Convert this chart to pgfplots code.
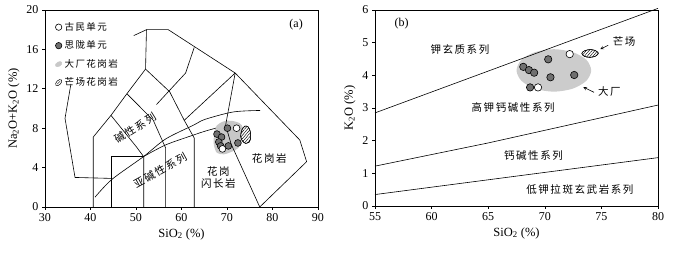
\documentclass[border=0pt]{standalone}
\usepackage{fontspec}
\setmainfont{Liberation Serif}
\newfontfamily\cjk[LetterSpace=15]{Noto Sans CJK SC}
\usepackage{pgfplots}
\pgfplotsset{compat=1.18}
\usetikzlibrary{patterns.meta}
\definecolor{dotgray}{RGB}{112,112,112}
\definecolor{blobgray}{RGB}{200,200,200}
\definecolor{blobgrayb}{RGB}{204,204,204}
\tikzset{hatch/.style={postaction={pattern={Lines[angle=50, distance=2.2pt, line width=0.45pt]}}}}
\pgfplotsset{
  bd/.style={black, line width=0.6pt, no marks, forget plot},
  opendot/.style={only marks, mark=*, mark size=3.4pt, mark options={fill=white, draw=black, line width=0.6pt}, forget plot},
  filldot/.style={only marks, mark=*, mark size=3.4pt, mark options={fill=dotgray, draw=black, line width=0.6pt}, forget plot},
  common/.style={
    scale only axis, anchor=south west, clip=false,
    tick align=outside, xtick pos=bottom, ytick pos=left,
    major tick length=3pt,
    axis line style={line width=0.7pt},
    every tick/.style={black, line width=0.6pt},
    tick label style={font=\fontsize{12}{12}\selectfont},
    /pgf/number format/assume math mode=true,
    label style={font=\fontsize{12.5}{13}\selectfont},
  }
}
\begin{document}
\begin{tikzpicture}[x=1pt,y=1pt]
\useasboundingbox (0,0) rectangle (674,253);
% ---------------- panel (a) ----------------
\begin{axis}[common, at={(45pt,46pt)}, width=273pt, height=197pt,
  xmin=30, xmax=90, ymin=0, ymax=20,
  xtick={30,40,...,90}, ytick={0,4,...,20},
  xlabel={SiO\textsubscript{2} (\%)},
  ylabel={Na\textsubscript{2}O+K\textsubscript{2}O (\%)},
  legend style={draw=none, fill=none, at={(0.035,0.948)}, anchor=north west,
    font=\cjk\fontsize{9.5}{10}\selectfont, row sep=5pt, inner sep=0pt,
    cells={anchor=west}},
  legend cell align=left,
]
% gray field (Dachang granite)
\addplot[draw=none, fill=blobgray, smooth cycle, forget plot] coordinates {
 (67.2,7.6) (67.8,8.3) (69.3,8.7) (71.0,8.75) (72.8,8.5) (73.5,8.0)
 (73.3,6.9) (72.5,6.0) (71.0,5.6) (69.3,5.35) (67.8,5.5) (67.1,6.3)};
% field boundaries
\addplot[bd] coordinates {(35.7,12.5) (34.4,9.0) (36.6,3.0) (44.8,2.9)};
\addplot[bd] coordinates {(40.6,0) (40.6,7.1) (44.5,9.3) (48.0,11.5) (52.1,14.0) (52.3,18.0)};
\addplot[bd] coordinates {(49.5,17.4) (52.3,18.0) (57.1,18.0) (71.8,13.6) (86.0,6.8) (87.5,4.6) (77.2,0)};
\addplot[bd] coordinates {(52.1,14.0) (57.4,11.7) (60.6,8.8) (62.8,7.0) (62.8,0)};
\addplot[bd] coordinates {(48.0,11.5) (53.8,8.8) (56.5,6.0) (56.5,0)};
\addplot[bd] coordinates {(44.5,9.3) (50.1,6.1) (51.7,5.1) (51.7,0)};
\addplot[bd] coordinates {(44.6,0) (44.6,5.1) (51.7,5.1)};
\addplot[bd] coordinates {(54.5,10.4) (60.9,13.6) (62.8,16.2)};
\addplot[bd] coordinates {(60.6,8.8) (71.8,13.6)};
\addplot[bd] coordinates {(71.8,13.6) (69.7,8.3) (70.9,6.4) (77.2,0)};
% alkaline / subalkaline curves
\addplot[bd, smooth] coordinates {(41,1.0) (44.7,2.8) (51.6,5.1) (56.5,6.9) (62.6,8.3) (65.2,8.9) (71.4,9.65) (77.3,9.8)};
\addplot[bd, smooth] coordinates {(51.6,5.1) (56.5,6.3) (62.6,7.3) (65.2,7.7) (67.5,8.0)};
% Mangchang granite (hatched)
\addplot[draw=black, line width=0.5pt, fill=white, hatch, smooth cycle, forget plot] coordinates {
 (73.0,7.2) (73.3,7.85) (73.9,8.2) (74.6,8.15) (75.1,7.7) (75.2,7.0) (74.8,6.55) (74.1,6.45) (73.4,6.7)};
% samples
\addplot[filldot] coordinates {(70.1,8.0) (67.8,7.4) (68.8,7.1) (68.2,6.6) (68.6,6.2) (70.3,6.2) (72.4,6.5)};
\addplot[opendot] coordinates {(72.1,8.0) (69.0,5.9)};
% labels
\node[font=\cjk\fontsize{10.5}{11}\selectfont, rotate=32] at (axis cs:49.8,8.0) {碱性系列};
\node[font=\cjk\fontsize{10.5}{11}\selectfont, rotate=29] at (axis cs:55.3,3.7) {亚碱性系列};
\node[font=\cjk\fontsize{10.5}{12}\selectfont, align=center] at (axis cs:68.1,3.0) {花岗\\闪长岩};
\node[font=\cjk\fontsize{10.5}{11}\selectfont] at (axis cs:79.3,4.95) {花岗岩};
\node[font=\fontsize{12}{12}\selectfont] at (axis cs:85.2,18.5) {(a)};
% legend
\addlegendimage{legend image code/.code={\draw[fill=white, line width=0.6pt] (3pt,0pt) circle (3.2pt);}}
\addlegendentry{古民单元}
\addlegendimage{legend image code/.code={\draw[fill=dotgray, line width=0.6pt] (3pt,0pt) circle (3.2pt);}}
\addlegendentry{思陇单元}
\addlegendimage{legend image code/.code={\fill[blobgray, rotate around={30:(3pt,0pt)}] (3pt,0pt) ellipse [x radius=3.6pt, y radius=2.2pt];}}
\addlegendentry{大厂花岗岩}
\addlegendimage{legend image code/.code={\draw[line width=0.5pt, fill=white, rotate around={45:(3pt,0pt)}] (3pt,0pt) ellipse [x radius=3.8pt, y radius=2.2pt]; \draw[line width=0.4pt] (1.6pt,-1.4pt) -- (4.4pt,1.4pt);}}
\addlegendentry{芒场花岗岩}
\end{axis}
% ---------------- panel (b) ----------------
\begin{axis}[common, at={(375pt,47pt)}, width=283pt, height=196pt,
  xmin=55, xmax=80, ymin=0, ymax=6,
  xtick={55,60,...,80}, ytick={0,1,...,6},
  xlabel={SiO\textsubscript{2} (\%)},
  ylabel={K\textsubscript{2}O (\%)},
]
\addplot[draw=none, fill=blobgrayb, smooth cycle, forget plot] coordinates {
 (74.1,4.15) (73.66,4.48) (72.45,4.71) (70.8,4.8) (69.15,4.71) (67.94,4.48)
 (67.5,4.15) (67.94,3.83) (69.15,3.59) (70.8,3.5) (72.45,3.59) (73.66,3.83)};
\addplot[bd] coordinates {(55,2.85) (80,6.05)};
\addplot[bd] coordinates {(55,1.22) (65,1.93) (80,3.09)};
\addplot[bd] coordinates {(55,0.35) (80,1.48)};
\addplot[draw=black, line width=0.5pt, fill=white, hatch, smooth cycle, forget plot] coordinates {
 (74.73,4.68) (74.45,4.76) (74.0,4.79) (73.5,4.75) (73.27,4.67) (73.5,4.58) (74.0,4.55) (74.5,4.59)};
\addplot[filldot, mark size=3.7pt] coordinates {(68.1,4.26) (68.6,4.16) (69.06,4.08) (70.3,4.49) (70.5,3.94) (72.6,4.01) (68.7,3.63)};
\addplot[opendot, mark size=3.7pt] coordinates {(72.2,4.65) (69.4,3.63)};
\node[font=\cjk\fontsize{10.5}{11}\selectfont] at (axis cs:62.5,4.8) {钾玄质系列};
\node[font=\cjk\fontsize{10.5}{11}\selectfont] at (axis cs:67.2,3.02) {高钾钙碱性系列};
\node[font=\cjk\fontsize{10.5}{11}\selectfont] at (axis cs:69.0,1.55) {钙碱性系列};
\node[font=\cjk\fontsize{10.5}{11}\selectfont] at (axis cs:73.1,0.51) {低钾拉斑玄武岩系列};
\node[font=\fontsize{12}{12}\selectfont] at (axis cs:57.35,5.57) {(b)};
\node[font=\cjk\fontsize{10.5}{11}\selectfont, anchor=west] at (axis cs:75.7,5.03) {芒场};
\draw[-stealth, line width=0.6pt] (axis cs:75.6,4.92) -- (axis cs:74.9,4.8);
\node[font=\cjk\fontsize{10.5}{11}\selectfont, anchor=west] at (axis cs:74.4,3.5) {大厂};
\draw[-stealth, line width=0.6pt] (axis cs:74.35,3.48) -- (axis cs:73.4,3.64);
\end{axis}
\end{tikzpicture}
\end{document}
